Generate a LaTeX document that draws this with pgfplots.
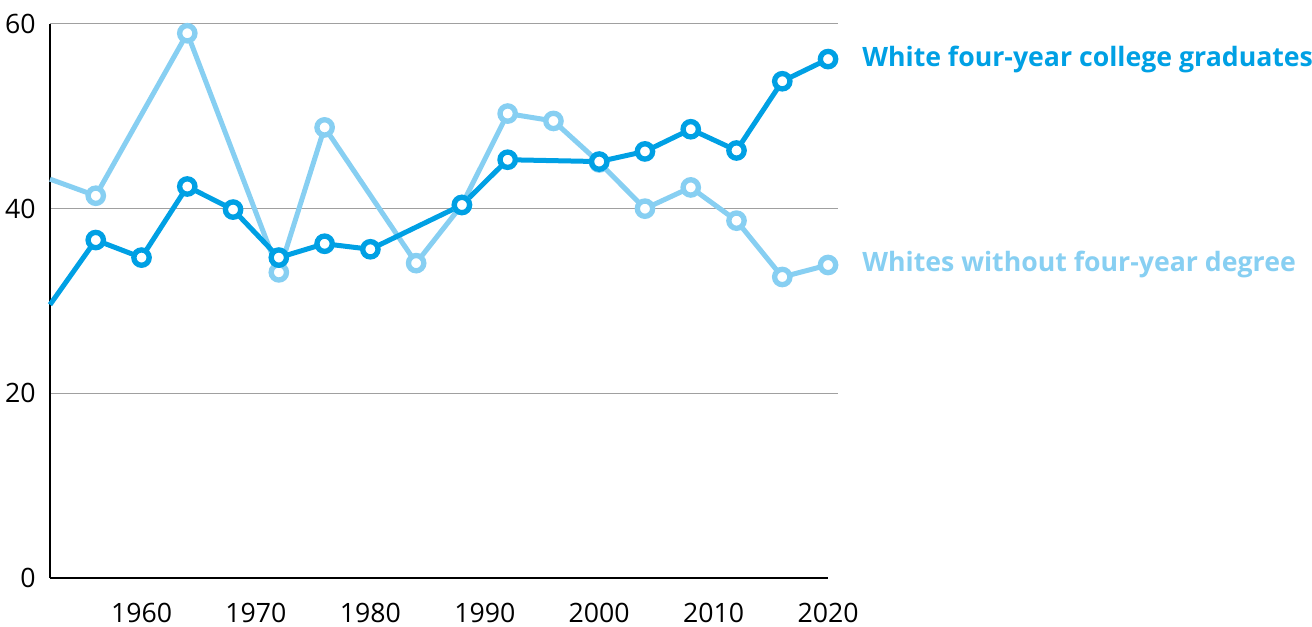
\documentclass[border=0pt]{standalone}
\usepackage{pgfplots}
\pgfplotsset{compat=1.18}
\usepackage{fontspec}
\setmainfont{Open Sans}
\definecolor{darkb}{RGB}{0,160,228}
\definecolor{lightb}{RGB}{135,207,242}
\definecolor{gridg}{RGB}{160,160,160}
\begin{document}
\begin{tikzpicture}
\begin{axis}[
  name=ax,
  scale only axis,
  width=591pt, height=415.5pt,
  xmin=1952, xmax=2020.87,
  ymin=0, ymax=60,
  xtick={1960,1970,1980,1990,2000,2010,2020},
  ytick={20,40,60},
  extra y ticks={0},
  extra y tick style={grid=none},
  xticklabel style={/pgf/number format/1000 sep={}},
  /pgf/number format/assume math mode=true,
  ticklabel style={font=\fontsize{20}{24}\selectfont, inner sep=0pt},
  yticklabel style={xshift=-10.5pt},
  xticklabel style={yshift=-19pt},
  major tick length=0pt,
  separate axis lines,
  axis x line*=bottom,
  axis y line*=left,
  x axis line style={draw=none},
  y axis line style={black, line width=1.5pt, -},
  ymajorgrids,
  grid style={gridg, line width=0.75pt},
  clip=false,
]
\draw[black, line width=1.5pt] (axis cs:1952,0) -- (axis cs:2020,0);
% Whites without four-year degree
\addplot[lightb, line width=3.75pt, mark=*, mark size=5.75pt,
  mark options={fill=white, draw=lightb, line width=4pt},
  mark indices={2,3,4,5,6,7,8,9,10,11,12,13,14,15}]
  coordinates {
  (1952,43.2) (1956,41.4) (1964,59.0) (1972,33.1) (1976,48.8)
  (1984,34.1) (1988,40.4) (1992,50.3) (1996,49.5) (2000,45.0)
  (2004,40.0) (2008,42.3) (2012,38.7) (2016,32.6) (2020,33.9)
  };
% White four-year college graduates
\addplot[darkb, line width=3.75pt, mark=*, mark size=5.75pt,
  mark options={fill=white, draw=darkb, line width=4pt},
  mark indices={2,3,4,5,6,7,8,9,10,11,12,13,14,15,16}]
  coordinates {
  (1952,29.6) (1956,36.6) (1960,34.7) (1964,42.4) (1968,39.9)
  (1972,34.7) (1976,36.2) (1980,35.6) (1988,40.4) (1992,45.3)
  (2000,45.1) (2004,46.2) (2008,48.6) (2012,46.3) (2016,53.8)
  (2020,56.2)
  };
\node[anchor=west, text=darkb, font=\bfseries\fontsize{20}{24}\selectfont, inner sep=0pt]
  at (axis cs:2020,56.2) [xshift=25.5pt] {White four-year college graduates};
\node[anchor=west, text=lightb, font=\bfseries\fontsize{20}{24}\selectfont, inner sep=0pt]
  at (axis cs:2020,33.9) [xshift=25.5pt] {Whites without four-year degree};
\end{axis}
\pgfresetboundingbox
\path[use as bounding box] ([xshift=-37.5pt, yshift=-36.75pt]ax.south west) rectangle ([xshift=355.5pt, yshift=18pt]ax.north east);
\end{tikzpicture}
\end{document}
